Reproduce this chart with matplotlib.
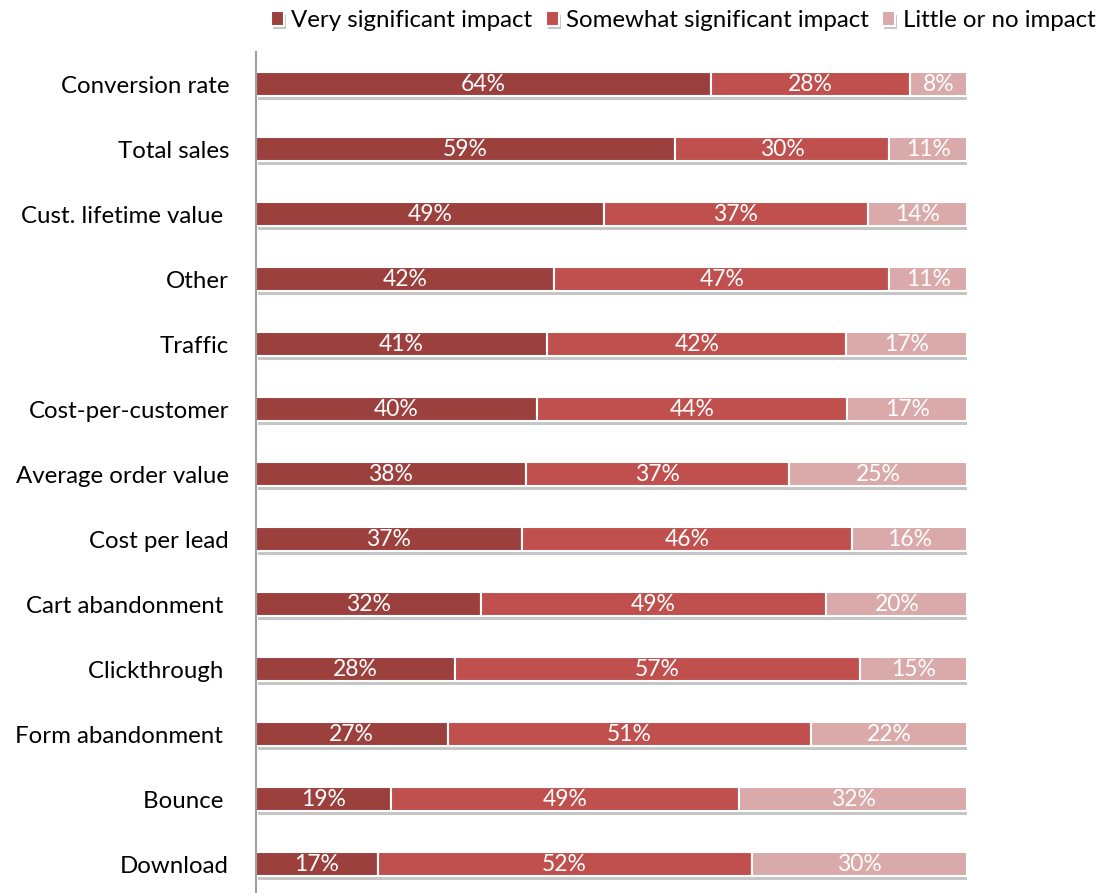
import matplotlib.pyplot as plt
import matplotlib.patheffects as pe
import numpy as np

plt.rcParams['font.family'] = ['Lato', 'DejaVu Sans']

# data, top to bottom
categories = ["Conversion rate", "Total sales", "Cust. lifetime value ", "Other", "Traffic",
              "Cost-per-customer", "Average order value", "Cost per lead", "Cart abandonment ",
              "Clickthrough ", "Form abandonment ", "Bounce ", "Download"]
very = [64, 59, 49, 42, 41, 40, 38, 37, 32, 28, 27, 19, 17]
somewhat = [28, 30, 37, 47, 42, 44, 37, 46, 49, 57, 51, 49, 52]
little = [8, 11, 14, 11, 17, 17, 25, 16, 20, 15, 22, 32, 30]

series = [("Very significant impact", very, "#9C403E"),
          ("Somewhat significant impact", somewhat, "#C0504D"),
          ("Little or no impact", little, "#DAA9A9")]

fig = plt.figure(figsize=(11.12, 8.93), dpi=100)
ax = fig.add_axes([0.2298, 0.0, 0.640, 0.9418])

y = np.arange(len(categories))
# 100% stacked: each row is scaled to its own total
totals = np.array(very) + np.array(somewhat) + np.array(little)
left = np.zeros(len(categories))
shadow = [pe.SimplePatchShadow(offset=(1.5, -2.5), shadow_rgbFace="#808080", alpha=0.45), pe.Normal()]

for name, vals, color in series:
    vals = np.array(vals)
    widths = vals / totals * 100
    bars = ax.barh(y, widths, left=left, height=0.37, color=color, edgecolor="white",
                   linewidth=1.5, label=name)
    for b in bars:
        b.set_path_effects(shadow)
    for yi, l, w, v in zip(y, left, widths, vals):
        ax.text(l + w / 2, yi, f"{v}%", ha="center", va="center", color="white", fontsize=16.5)
    left = left + widths

ax.set_xlim(0, 100)
ax.set_ylim(12.44, -0.50)
ax.set_yticks(y)
ax.set_yticklabels(categories, fontsize=17.3)
ax.tick_params(axis="y", length=0, pad=19)
ax.set_xticks([])
for s in ["top", "right", "bottom"]:
    ax.spines[s].set_visible(False)
ax.spines["left"].set_color("#A0A0A0")
ax.spines["left"].set_linewidth(1.5)

fig.legend(loc="upper right", bbox_to_anchor=(0.998, 1.005), ncol=3, frameon=False,
           fontsize=17.3, handlelength=0.55, handleheight=0.55, handletextpad=0.3,
           columnspacing=0.55, borderaxespad=0.2)

fig.savefig("out.png", dpi=100)
